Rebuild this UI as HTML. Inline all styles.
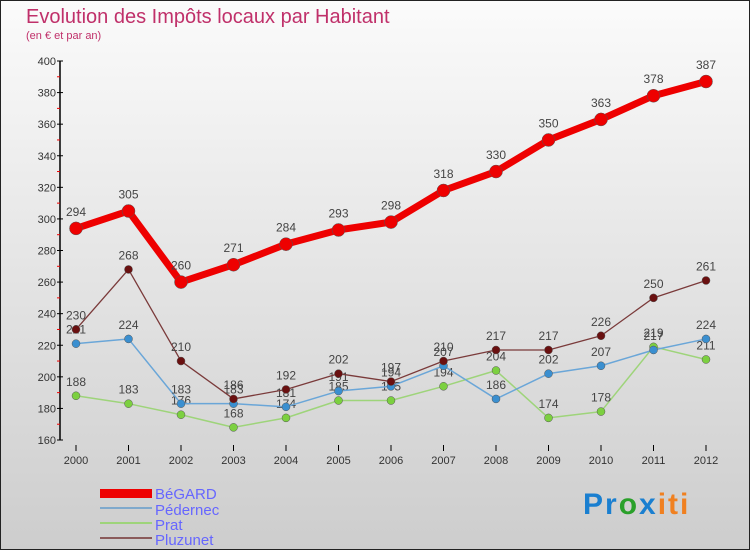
<!DOCTYPE html>
<html><head><meta charset="utf-8"><style>
body{margin:0}
#wrap{position:relative;width:750px;height:550px;overflow:hidden}
svg{display:block;font-family:"Liberation Sans",sans-serif}
</style></head><body>
<div id="wrap">
<svg id="chart" width="750" height="550">
<defs><linearGradient id="bg" x1="0" y1="0" x2="0" y2="1"><stop offset="0" stop-color="#fbfbfb"/><stop offset="1" stop-color="#cdcdcd"/></linearGradient></defs>
<rect x="0.5" y="0.5" width="749" height="549" fill="url(#bg)" stroke="#222"/>
<text x="26" y="23" font-size="20" fill="#c0306a">Evolution des Impôts locaux par Habitant</text>
<text x="26" y="39" font-size="11" fill="#c0306a">(en € et par an)</text>
<g id="axes"></g><g id="series"></g>
<g>
<rect x="100" y="489" width="52" height="9" fill="#e00"/>
<text x="155" y="499" font-size="15" fill="#6666ff">BéGARD</text>
<rect x="100" y="507" width="52" height="2" fill="#7fa9cc"/>
<text x="155" y="515" font-size="15" fill="#6666ff">Pédernec</text>
<rect x="100" y="522" width="52" height="2" fill="#9ed47a"/>
<text x="155" y="530" font-size="15" fill="#6666ff">Prat</text>
<rect x="100" y="537" width="52" height="2" fill="#8a5a5a"/>
<text x="155" y="545" font-size="15" fill="#6666ff">Pluzunet</text>
</g>
<text x="583" y="514" font-size="30" font-weight="bold" letter-spacing="2"><tspan fill="#1a7fd0">Pr</tspan><tspan fill="#2aa02a">o</tspan><tspan fill="#1a7fd0">x</tspan><tspan fill="#f08020">iti</tspan></text>
</svg></div>
<script>
const years=["2000","2001","2002","2003","2004","2005","2006","2007","2008","2009","2010","2011","2012"];
const yTicks=[160,180,200,220,240,260,280,300,320,340,360,380,400];
const begard=[294,305,260,271,284,293,298,318,330,350,363,378,387];
const pedernec=[221,224,183,183,181,191,194,207,186,202,207,217,224];
const prat=[188,183,176,168,174,185,185,194,204,174,178,219,211];
const pluzunet=[230,268,210,186,192,202,197,210,217,217,226,250,261];
const NS="http://www.w3.org/2000/svg";
function xS(i){return 76+i*52.5;}
function yS(v){return 440-(v-160)*(379/240);}
function mk(tag,attrs,parent){const e=document.createElementNS(NS,tag);for(const k in attrs)e.setAttribute(k,attrs[k]);parent.appendChild(e);return e;}
const ax=document.getElementById('axes'),sg=document.getElementById('series');
let l=mk('line',{x1:60,y1:yS(400),x2:60,y2:yS(160),stroke:'#000','stroke-width':1.5},ax);


yTicks.forEach(v=>{
 const t=mk('line',{x1:57,x2:63,y1:yS(v),y2:yS(v),stroke:'#000'},ax);
 
 
 if(v<400){const m=mk('line',{x1:57,x2:60,y1:yS(v+10),y2:yS(v+10),stroke:'#e00'},ax);
 
 }
 const tx=mk('text',{x:56,y:yS(v)+4,'font-size':11,'text-anchor':'end',fill:'#333'},ax);tx.textContent=v;
 
 
});
years.forEach((y,i)=>{
 const t=mk('line',{x1:xS(i),x2:xS(i),y1:445,y2:451,stroke:'#000'},ax);
 
 
 const tx=mk('text',{x:xS(i),y:464,'font-size':11,'text-anchor':'middle',fill:'#333'},ax);tx.textContent=y;
 
 
});
function series(data,name,color,w,r,ptCol){
 const g=mk('g',{},sg);
 
 
 const p=mk('polyline',{points:data.map((v,i)=>xS(i)+','+yS(v)).join(' '),fill:'none',stroke:color,'stroke-width':w,'stroke-linejoin':'round'},g);
 
 
 data.forEach((v,i)=>{
  const c=mk('circle',{cx:xS(i),cy:yS(v),r:r,fill:ptCol,stroke:'#555','stroke-width':0.5},g);
  
  
  const t=mk('text',{x:xS(i),y:yS(v)-(r+6),'font-size':12,'text-anchor':'middle',fill:'#444'},g);t.textContent=v;
  
  
 });
}
series(prat,'prat','#9ed47a',1.5,4,'#7cd040');
series(pedernec,'pedernec','#6aa6d8',1.5,4,'#3a8fd0');
series(pluzunet,'pluzunet','#7a3a3a',1.3,4,'#6a1010');
series(begard,'begard','#ee0000',7,6.5,'#ee0000');
</script></body></html>
